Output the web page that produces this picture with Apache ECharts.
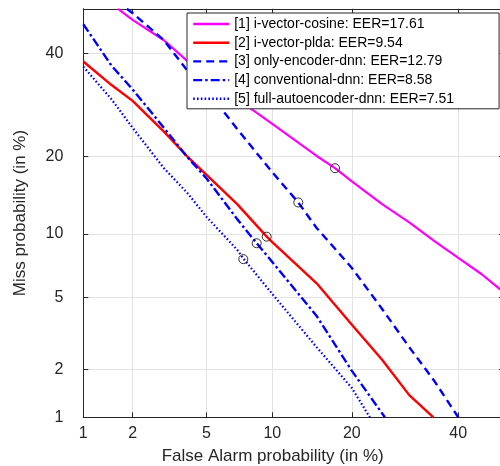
<!DOCTYPE html>
<html>
<head>
<meta charset="utf-8">
<script src="https://cdn.jsdelivr.net/npm/echarts@6/dist/echarts.min.js"></script>
<style>
html,body{margin:0;padding:0;background:#fff;}
#chart{width:500px;height:466px;}
</style>
</head>
<body>
<div id="chart"></div>
<script>
// ---- data (percentages) ----
const tickLabels = [1, 2, 5, 10, 20, 40];
const axisRange = [1, 50];

const seriesNames = [
  '[1] i-vector-cosine: EER=17.61',
  '[2] i-vector-plda: EER=9.54',
  '[3] only-encoder-dnn: EER=12.79',
  '[4] conventional-dnn: EER=8.58',
  '[5] full-autoencoder-dnn: EER=7.51'
];

const cosineFA   = [1.64, 2, 3, 4, 5, 7, 10, 15, 17.5, 20, 25, 30, 35, 40, 45, 50];
const cosineMiss = [50, 47.5, 42.9, 38.3, 35.2, 30.4, 25.6, 20.1, 18.2, 16.3, 13.3, 11.2, 9.3, 7.8, 6.55, 5.3];

const pldaFA   = [1, 1.5, 2, 3, 4, 5, 7, 9.47, 10, 15, 20, 25, 30, 34.8];
const pldaMiss = [38.2, 33.2, 30.0, 24.2, 20.0, 17.2, 13.3, 9.72, 9.2, 5.9, 3.6, 2.28, 1.39, 1.0];

const encoderFA   = [1.85, 2, 3, 4, 5, 7, 10, 12.76, 15, 20, 25, 30, 35, 40];
const encoderMiss = [50, 49.0, 42.9, 36.2, 32.2, 24.7, 17.6, 13.5, 10.6, 7.0, 4.37, 2.7, 1.7, 1.0];

const convFA   = [1, 1.5, 2, 3, 4, 5, 7, 8.57, 10, 15, 20, 25.5];
const convMiss = [46.5, 37.3, 32.3, 24.9, 19.9, 16.7, 11.55, 9.09, 7.47, 4.01, 1.96, 1.0];

const fullFA   = [1, 1.5, 2, 3, 4, 5, 7, 7.47, 10, 15, 20, 22.9];
const fullMiss = [37.1, 30.3, 24.9, 18.2, 14.7, 11.8, 8.5, 7.75, 5.22, 2.7, 1.54, 1.0];

const eerFA   = [17.5, 9.47, 12.76, 8.57, 7.47];
const eerMiss = [18.2, 9.72, 13.5, 9.09, 7.7];

// ---- probit (normal deviate) transform for DET axes ----
function probit(pct) {
  const p = pct / 100;
  const a=[-3.969683028665376e+01,2.209460984245205e+02,-2.759285104469687e+02,1.383577518672690e+02,-3.066479806614716e+01,2.506628277459239e+00];
  const b=[-5.447609879822406e+01,1.615858368580409e+02,-1.556989798598866e+02,6.680131188771972e+01,-1.328068155288572e+01];
  const c=[-7.784894002430293e-03,-3.223964580411365e-01,-2.400758277161838e+00,-2.549671010229583e+00,4.374664141464968e+00,2.938163982698783e+00];
  const d=[7.784695709041462e-03,3.224671290700398e-01,2.445134137142996e+00,3.754408661907416e+00];
  const pl = 0.02425, ph = 1 - pl;
  let q, r;
  if (p < pl) {
    q = Math.sqrt(-2 * Math.log(p));
    return (((((c[0]*q+c[1])*q+c[2])*q+c[3])*q+c[4])*q+c[5])/((((d[0]*q+d[1])*q+d[2])*q+d[3])*q+1);
  }
  if (p <= ph) {
    q = p - 0.5; r = q * q;
    return (((((a[0]*r+a[1])*r+a[2])*r+a[3])*r+a[4])*r+a[5])*q/(((((b[0]*r+b[1])*r+b[2])*r+b[3])*r+b[4])*r+1);
  }
  q = Math.sqrt(-2 * Math.log(1 - p));
  return -(((((c[0]*q+c[1])*q+c[2])*q+c[3])*q+c[4])*q+c[5])/((((d[0]*q+d[1])*q+d[2])*q+d[3])*q+1);
}

function pairs(xs, ys) { return xs.map((x, i) => [probit(x), probit(ys[i])]); }

const tickVals = tickLabels.map(probit);
const axMin = probit(axisRange[0]);
const axMax = 0; // probit(50%)
function fmt(v) {
  for (let i = 0; i < tickVals.length; i++) if (Math.abs(tickVals[i] - v) < 1e-6) return String(tickLabels[i]);
  return '';
}

const FONT = "'Liberation Sans', Arial, Helvetica, sans-serif";
const AX = '#262626';

function mainAxis(name, isX) {
  return {
    type: 'value', min: axMin, max: axMax,
    position: isX ? 'bottom' : 'left',
    name: name, nameLocation: 'middle', nameGap: isX ? 31 : 54,
    nameTextStyle: { fontFamily: FONT, fontSize: 17, color: AX, padding: isX ? [0, 42, 0, 0] : 0 },
    axisLine: { show: true, onZero: false, lineStyle: { color: AX, width: 1 } },
    axisTick: { show: true, inside: true, length: 5, customValues: tickVals, lineStyle: { color: AX } },
    axisLabel: { show: true, customValues: tickVals, formatter: fmt, fontFamily: FONT, fontSize: 16, color: AX, margin: isX ? 8 : 20 },
    splitLine: { show: true, lineStyle: { color: '#e3e3e3', width: 1 } }
  };
}
function boxAxis(isX) {
  return {
    type: 'value', min: axMin, max: axMax,
    position: isX ? 'top' : 'right',
    axisLine: { show: true, onZero: false, lineStyle: { color: AX, width: 1 } },
    axisTick: { show: true, inside: true, length: 5, customValues: tickVals, lineStyle: { color: AX } },
    axisLabel: { show: false },
    splitLine: { show: false }
  };
}

const styles = [
  { color: '#ff00ff', width: 2.2, type: 'solid' },
  { color: '#ff0000', width: 2.4, type: 'solid' },
  { color: '#0000ff', width: 2.4, type: [8, 5] },
  { color: '#0000ff', width: 2.4, type: [9, 3, 2.5, 3] },
  { color: '#0000ff', width: 2.2, type: [1.6, 2.2] }
];
const dataSets = [
  pairs(cosineFA, cosineMiss),
  pairs(pldaFA, pldaMiss),
  pairs(encoderFA, encoderMiss),
  pairs(convFA, convMiss),
  pairs(fullFA, fullMiss)
];

const series = dataSets.map((d, i) => ({
  name: seriesNames[i], type: 'line', data: d, symbol: 'none',
  xAxisIndex: 0, yAxisIndex: 0,
  color: styles[i].color,
  lineStyle: { color: styles[i].color, width: styles[i].width, type: styles[i].type },
  z: 2
}));
series.push({
  name: 'EER', type: 'scatter', data: pairs(eerFA, eerMiss),
  symbol: 'circle', symbolSize: 9,
  itemStyle: { color: 'rgba(0,0,0,0)', borderColor: '#000', borderWidth: 1 },
  z: 5, silent: true
});

const chart = echarts.init(document.getElementById('chart'), null, { renderer: 'canvas' });
chart.setOption({
  animation: false,
  backgroundColor: '#fff',
  grid: { left: 83.3, top: 8.8, right: -4.1, bottom: 48.7, containLabel: false, outerBoundsMode: 'none' },
  xAxis: [mainAxis('False Alarm probability (in %)', true), boxAxis(true)],
  yAxis: [mainAxis('Miss probability (in %)', false), boxAxis(false)],
  legend: {
    data: seriesNames, orient: 'vertical', left: 187, top: 13,
    itemWidth: 36, itemHeight: 14, itemGap: 4.7,
    padding: [4, 45, 3, 5],
    borderColor: AX, borderWidth: 1, backgroundColor: '#fff',
    itemStyle: { opacity: 0 },
    lineStyle: { width: 2.4 },
    textStyle: { fontFamily: FONT, fontSize: 14, color: '#000' },
    selectedMode: false
  },
  series: series
});
</script>
</body>
</html>
